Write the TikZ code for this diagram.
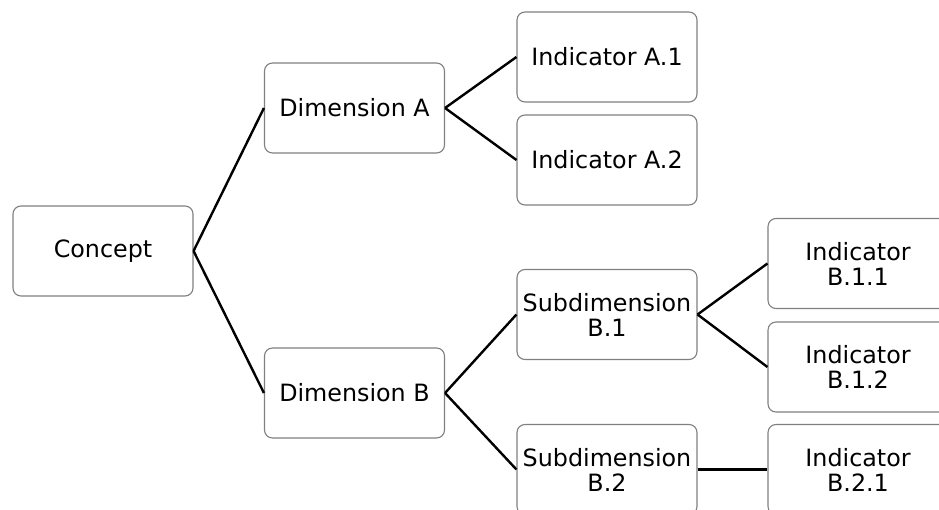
\documentclass[tikz,border=0pt]{standalone}
\usepackage{fontspec}
\setmainfont{DejaVu Sans}
\begin{document}
\begin{tikzpicture}[x=1pt,y=-1pt,
  box/.style={draw={rgb,255:red,128;green,128;blue,128},line width=1.1pt,fill=white,rounded corners=8pt,
    minimum width=180pt,minimum height=90pt,inner sep=0pt,align=center,
    font=\fontsize{23.8}{25}\selectfont},
  link/.style={line width=2.4pt,black}]
\useasboundingbox (0,0) rectangle (939,510);
\clip (0,0) rectangle (939,510);
\node[box] (c) at (103,251) {Concept};
\node[box] (da) at (354.5,108) {Dimension A};
\node[box] (db) at (354.5,393) {Dimension B};
\node[box] (a1) at (607,57) {Indicator A.1};
\node[box] (a2) at (607,160) {Indicator A.2};
\node[box] (s1) at (607,314.5) {Subdimension\\B.1};
\node[box] (s2) at (607,469.5) {Subdimension\\B.2};
\node[box] (b11) at (858,263.5) {Indicator\\B.1.1};
\node[box] (b12) at (858,367) {Indicator\\B.1.2};
\node[box] (b21) at (858,469.5) {Indicator\\B.2.1};
\draw[link] (c.east) -- (da.west);
\draw[link] (c.east) -- (db.west);
\draw[link] (da.east) -- (a1.west);
\draw[link] (da.east) -- (a2.west);
\draw[link] (db.east) -- (s1.west);
\draw[link] (db.east) -- (s2.west);
\draw[link] (s1.east) -- (b11.west);
\draw[link] (s1.east) -- (b12.west);
\draw[link] (s2.east) -- (b21.west);
\end{tikzpicture}
\end{document}
